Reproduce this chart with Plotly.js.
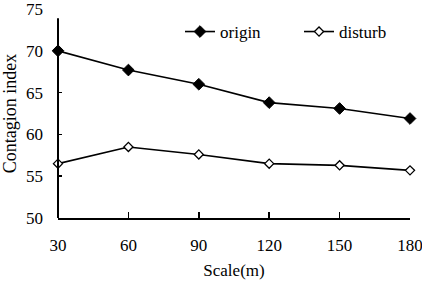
<!DOCTYPE html>
<html>
<head>
<meta charset="utf-8">
<script src="https://cdn.plot.ly/plotly-3.0.1.min.js"></script>
<style>html,body{margin:0;padding:0;background:#fff;}#chart{width:422px;height:282px;}</style>
</head>
<body>
<div id="chart"></div>
<script>
var scales = [30, 60, 90, 120, 150, 180];
var origin = [70.0, 67.7, 66.0, 63.8, 63.1, 61.9];
var disturb = [56.5, 58.5, 57.6, 56.5, 56.3, 55.7];
var yTicks = [50, 55, 60, 65, 70, 75];

var font = 'Liberation Serif, Times New Roman, serif';
var traces = [
  {x: scales, y: origin, name: 'origin', type: 'scatter', mode: 'lines+markers',
   legend: 'legend',
   line: {color: '#000', width: 1.6},
   marker: {symbol: 'diamond', size: 9, color: '#000', line: {color: '#000', width: 1}},
   cliponaxis: false},
  {x: scales, y: disturb, name: 'disturb', type: 'scatter', mode: 'lines+markers',
   legend: 'legend2',
   line: {color: '#000', width: 1.6},
   marker: {symbol: 'diamond', size: 7, color: '#fff', line: {color: '#000', width: 1.3}},
   cliponaxis: false}
];
var legendBase = {orientation: 'h', y: 0.89, xanchor: 'left', yanchor: 'middle',
  font: {family: font, size: 17, color: '#000'}, bgcolor: 'rgba(0,0,0,0)'};
var layout = {
  width: 422, height: 282,
  margin: {l: 58, r: 12, t: 9, b: 64},
  paper_bgcolor: '#fff', plot_bgcolor: '#fff',
  font: {family: font, size: 17, color: '#000'},
  showlegend: true,
  legend: Object.assign({}, legendBase, {x: 0.3466}),
  legend2: Object.assign({}, legendBase, {x: 0.6847}),
  xaxis: {range: [30, 180], tickvals: scales, ticktext: scales.map(String),
          automargin: false, ticklabeloverflow: 'allow',
          showgrid: false, zeroline: false, showline: true, linecolor: '#000', linewidth: 2,
          ticks: 'inside', ticklen: 6, tickwidth: 1.5, tickcolor: '#000',
          ticklabelstandoff: 11,
          title: {text: 'Scale(m)', font: {family: font, size: 17}, standoff: 10}},
  yaxis: {range: [50, 75], tickvals: yTicks, ticktext: yTicks.map(String),
          automargin: false, ticklabeloverflow: 'allow',
          showgrid: false, zeroline: false, showline: false,
          ticks: 'inside', ticklen: 4, tickwidth: 1.5, tickcolor: '#000',
          ticklabelstandoff: 14,
          title: {text: 'Contagion index', font: {family: font, size: 18}, standoff: 12}},
  shapes: [{type: 'line', xref: 'paper', yref: 'y', x0: 0, x1: 0, y0: 50, y1: 73.9,
            line: {color: '#000', width: 2}}]
};
Plotly.newPlot('chart', traces, layout, {displayModeBar: false, staticPlot: true});
</script>
</body>
</html>
